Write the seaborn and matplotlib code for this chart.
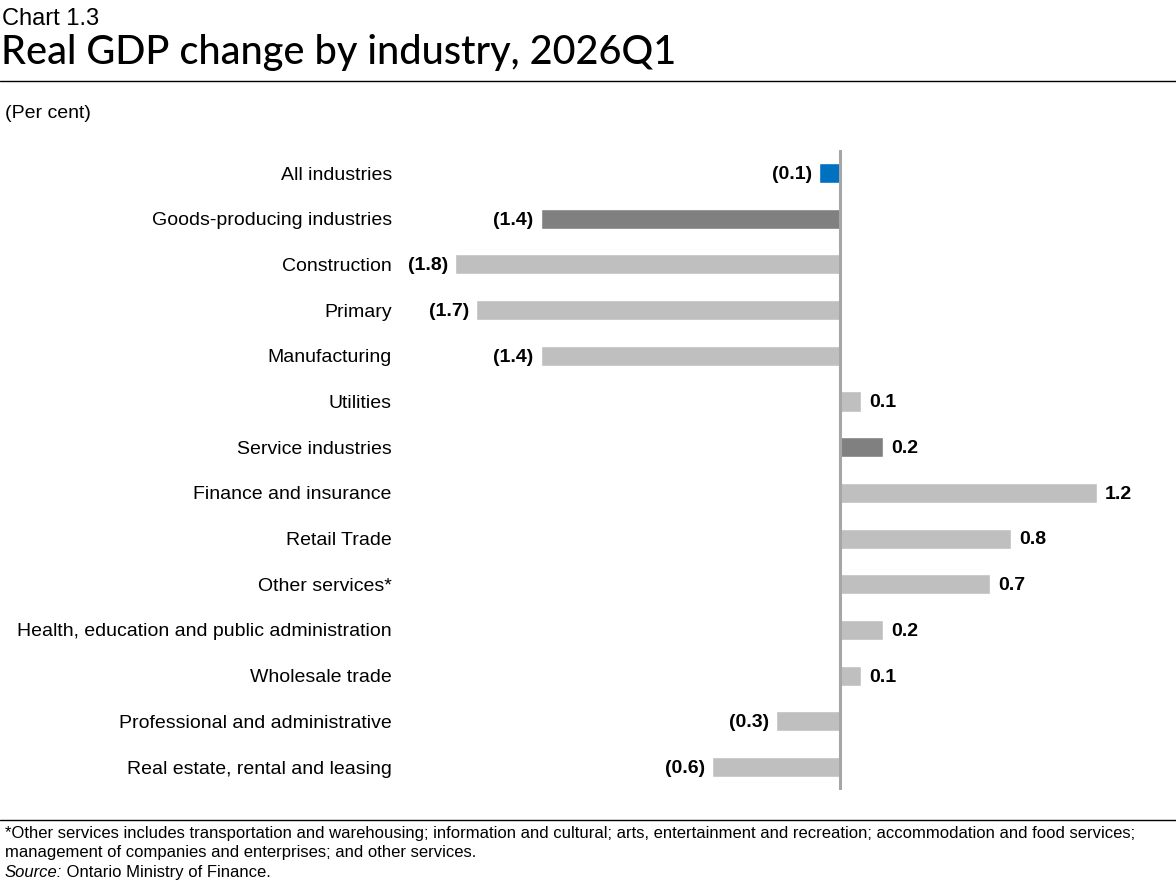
import matplotlib
matplotlib.use("Agg")
import matplotlib.pyplot as plt
import seaborn as sns
import pandas as pd
from matplotlib import font_manager

sns.set_style("white")
plt.rcParams["text.color"] = "black"
plt.rcParams["ytick.color"] = "black"
plt.rcParams["ytick.labelcolor"] = "black"

categories = [
    "All industries",
    "Goods-producing industries",
    "Construction",
    "Primary",
    "Manufacturing",
    "Utilities",
    "Service industries",
    "Finance and insurance",
    "Retail Trade",
    "Other services*",
    "Health, education and public administration",
    "Wholesale trade",
    "Professional and administrative",
    "Real estate, rental and leasing",
]
values = [-0.1, -1.4, -1.8, -1.7, -1.4, 0.1, 0.2, 1.2, 0.8, 0.7, 0.2, 0.1, -0.3, -0.6]
groups = ["total", "aggregate", "industry", "industry", "industry", "industry", "aggregate",
          "industry", "industry", "industry", "industry", "industry", "industry", "industry"]
group_colors = {"total": "#0070C0", "aggregate": "#808080", "industry": "#BFBFBF"}

title_small = "Chart 1.3"
title_main = "Real GDP change by industry, 2026Q1"
unit_label = "(Per cent)"
footnote = ("*Other services includes transportation and warehousing; information and cultural; arts, "
            "entertainment and recreation; accommodation and food services;\n"
            "management of companies and enterprises; and other services.")
source_label = "Source:"
source_text = " Ontario Ministry of Finance."

names = {f.name for f in font_manager.fontManager.ttflist}
narrow = "Liberation Sans Narrow" if "Liberation Sans Narrow" in names else "Liberation Sans"
title_font = "Lato"

df = pd.DataFrame({"category": categories, "value": values, "group": groups})

fig = plt.figure(figsize=(11.76, 8.88), dpi=100)
ax = fig.add_axes([0.3414, 0.1105, 0.9871 - 0.3414, 0.8309 - 0.1105])

sns.barplot(data=df, y="category", x="value", hue="group", palette=group_colors,
            order=categories, dodge=False, width=0.44, legend=False, ax=ax, orient="h",
            saturation=1)

ax.set_xlim(-2.05, 1.5)
ax.set_ylim(13.5, -0.5)
for s in ax.spines.values():
    s.set_visible(False)
ax.axvline(0, color="#A6A6A6", lw=2.2, zorder=3)
ax.set_xticks([])
ax.set_xlabel("")
ax.set_ylabel("")
ax.tick_params(axis="y", length=0, pad=7)
for lab in ax.get_yticklabels():
    lab.set_fontfamily(narrow)
    lab.set_fontsize(14)
    lab.set_color("#000000")

for i, v in enumerate(values):
    txt = f"{v:.1f}" if v >= 0 else f"({abs(v):.1f})"
    if v >= 0:
        ax.annotate(txt, (v, i), xytext=(6, -1), textcoords="offset points",
                    ha="left", va="center", fontsize=14, fontweight="bold", family=narrow,
                    color="black")
    else:
        ax.annotate(txt, (v, i), xytext=(-5, -1), textcoords="offset points",
                    ha="right", va="center", fontsize=14, fontweight="bold", family=narrow,
                    color="black")

fig.text(0.002, 0.979, title_small, fontsize=17, family=narrow, va="center", ha="left")
fig.text(0.001, 0.941, title_main, fontsize=28.5, family=title_font, fontweight="medium",
         va="center", ha="left")
fig.add_artist(plt.Line2D([0, 1], [1 - 81 / 888, 1 - 81 / 888], color="black", lw=1.0))
fig.text(0.004, 1 - 113 / 888, unit_label, fontsize=14, family=narrow, va="center", ha="left")

fig.add_artist(plt.Line2D([0, 1], [1 - 820 / 888, 1 - 820 / 888], color="black", lw=1.0))
fig.text(0.004, 1 - 826 / 888, footnote, fontsize=12, family=narrow, va="top", ha="left",
         linespacing=1.35)
t = fig.text(0.004, 1 - 865 / 888, source_label, fontsize=12, family=narrow, style="italic",
             va="top", ha="left")
fig.canvas.draw()
bb = t.get_window_extent()
fig.text(bb.x1 / fig.bbox.width, 1 - 865 / 888, source_text, fontsize=12, family=narrow,
         va="top", ha="left")

fig.savefig("out.png", dpi=100)
